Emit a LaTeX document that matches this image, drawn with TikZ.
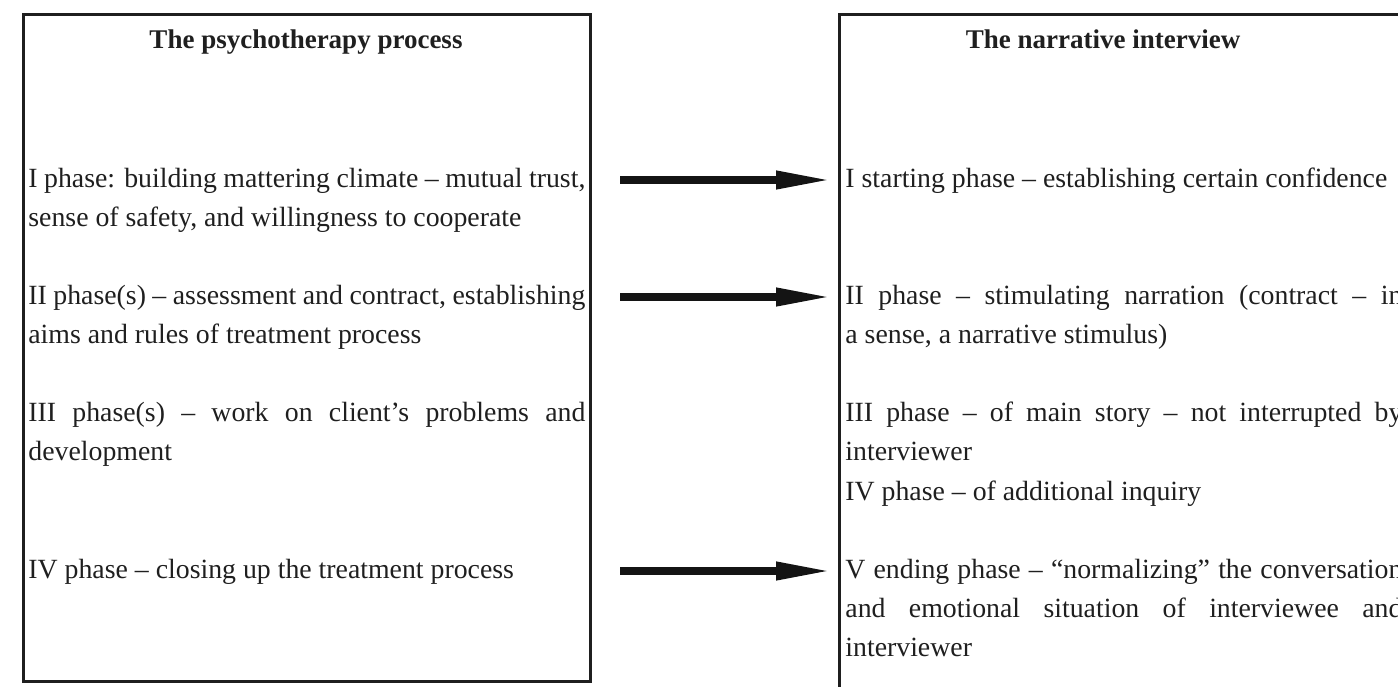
\documentclass[tikz,border=0pt]{standalone}
\usepackage{fontspec}
\setmainfont{Liberation Serif}
\usetikzlibrary{arrows.meta}
\hyphenpenalty=10000
\hfuzz=20pt
\begin{document}
\begin{tikzpicture}[x=0.5pt,y=-0.5pt,
  box/.style={draw=black!88, line width=1.5pt},
  txt/.style={anchor=base west, inner sep=0pt, text width=278.5pt, align=justify,
    font=\fontsize{13.9}{19.5}\selectfont, text=black!88},
  ttl/.style={anchor=base, inner sep=0pt, font=\fontsize{13.5}{19.5}\selectfont\bfseries, text=black!88},
  bigarrow/.style={draw=black!92, line width=3.6pt, -{Triangle[length=27.5pt,width=8.5pt]}}]
\useasboundingbox (0,0) rectangle (1398,686);
\clip (0,0) rectangle (1398,686);
% boxes
\draw[box] (23,14) rectangle (590,681);
\draw[box] (839,14) rectangle (1420,720);
% titles
\node[ttl] (lt) at (306,48) {The psychotherapy process};
\node[ttl] (rt) at (1103,48) {The narrative interview};
% left texts
\node[txt] (l1) at (28,187) {I phase: building mattering climate -- mutual trust,\linebreak sense of safety, and willingness to cooperate};
\node[txt] (l2) at (28,304) {II phase(s) -- assessment and contract, establishing\linebreak aims and rules of treatment process};
\node[txt] (l3) at (28,421) {III phase(s) -- work on client’s problems and\linebreak development};
\node[txt] (l4) at (28,578) {IV phase -- closing up the treatment process};
% right texts
\node[txt] (r1) at (845,187) {I starting phase -- establishing certain confidence};
\node[txt] (r2) at (845,304) {II phase -- stimulating narration (contract -- in\linebreak a sense, a narrative stimulus)};
\node[txt] (r3) at (845,421) {III phase -- of main story -- not interrupted by\linebreak interviewer};
\node[txt] (r4) at (845,500) {IV phase -- of additional inquiry};
\node[txt] (r5) at (845,578) {V ending phase -- “normalizing” the conversation\linebreak and emotional situation of interviewee and\linebreak interviewer};
% arrows
\coordinate (a1s) at (620,180); \coordinate (a1e) at (831,180);
\coordinate (a2s) at (620,297); \coordinate (a2e) at (831,297);
\coordinate (a3s) at (620,571); \coordinate (a3e) at (831,571);
\draw[bigarrow] (a1s) -- (a1e);
\draw[bigarrow] (a2s) -- (a2e);
\draw[bigarrow] (a3s) -- (a3e);
\end{tikzpicture}
\end{document}
